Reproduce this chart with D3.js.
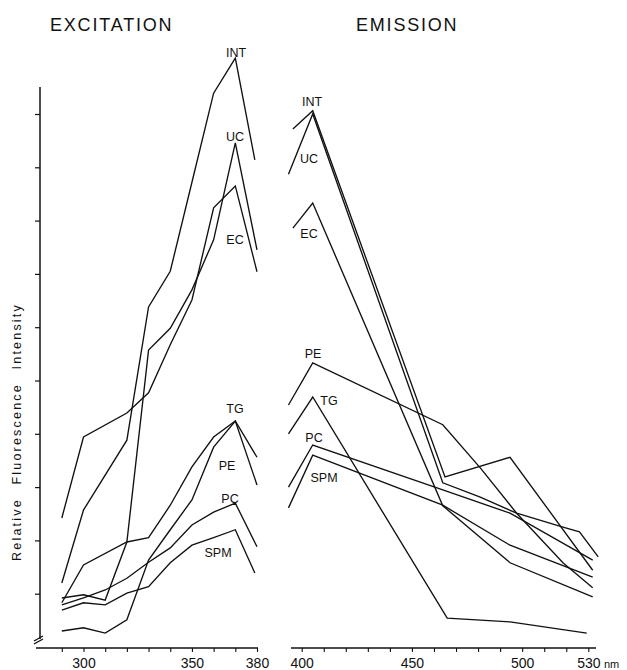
<!DOCTYPE html>
<html>
<head>
<meta charset="utf-8">
<script src="https://cdn.jsdelivr.net/npm/d3@7"></script>
<style>
  html,body{margin:0;padding:0;background:#fff;}
  svg{display:block;font-family:"Liberation Sans",Arial,sans-serif;}
</style>
</head>
<body>
<svg id="chart" width="627" height="670"></svg>
<script>
// ---------------- DATA ----------------
const seriesNames = ["INT","UC","EC","PE","TG","PC","SPM"];

// Excitation spectra: [wavelength nm, relative intensity]
const excINT = [[290,12.0],[300,25.7],[320,38.8],[330,63.8],[340,70.5],[350,87.2],[360,103.9],[370,110.5],[379,91.4]];
const excUC  = [[290,9.2],[300,9.8],[310,8.8],[320,19.7],[330,55.7],[340,59.8],[350,67.0],[360,76.4],[370,94.6],[380,74.5]];
const excEC  = [[290,24.2],[300,39.4],[320,43.9],[330,47.7],[340,56.7],[350,65.1],[360,82.4],[370,86.5],[380,70.4]];
const excPE  = [[290,3.0],[300,3.6],[310,2.6],[320,5.1],[330,16.3],[340,22.0],[350,27.6],[360,37.5],[370,42.4],[380,30.4]];
const excTG  = [[290,8.3],[300,15.4],[320,19.7],[330,20.5],[340,26.6],[350,33.8],[360,39.4],[370,42.4],[380,35.6]];
const excPC  = [[290,7.9],[300,9.2],[310,10.7],[320,12.9],[330,15.9],[340,18.6],[350,22.9],[360,25.3],[370,27.0],[380,18.8]];
const excSPM = [[290,6.9],[300,8.3],[310,7.9],[320,10.1],[330,11.3],[340,15.8],[350,19.1],[360,20.5],[370,22.0],[379,13.9]];

// Emission spectra: [wavelength nm, relative intensity]
const emINT = [[396,97.2],[405,100.6],[465,31.9],[494.5,35.6],[532,14.4]];
const emUC  = [[394,88.7],[405,100.0],[464,30.8],[481,28.1],[497.5,25.1],[518.5,22.5],[526,21.6],[534.5,16.9]];
const emEC  = [[396,78.6],[405,83.3],[464,26.5],[494.5,15.8],[532,9.4]];
const emPE  = [[394,45.4],[405,53.3],[464,41.7],[481,33.6],[497.5,25.1],[518.5,15.8],[532,11.1]];
const emTG  = [[394,40.0],[405,46.9],[466,5.4],[494.5,4.7],[529.3,2.6]];
const emPC  = [[394,30.0],[405,37.9],[464,29.5],[494.5,25.1],[532,16.3]];
const emSPM = [[394,26.1],[405,36.0],[464,26.6],[494.5,19.1],[532,13.1]];

const excTicks = [290,300,310,320,330,340,350,360,370,380];
const excTickLabels = [300,350,380];
const emTicks = [400,410,420,430,440,450,460,470,480,490,500,510,520,530];
const emTickLabels = [400,450,500,530];
const yTicks = [10,20,30,40,50,60,70,80,90,100];

const excitation = {INT:excINT,UC:excUC,EC:excEC,PE:excPE,TG:excTG,PC:excPC,SPM:excSPM};
const emission   = {INT:emINT,UC:emUC,EC:emEC,PE:emPE,TG:emTG,PC:emPC,SPM:emSPM};

// ---------------- LAYOUT ----------------
const svg = d3.select("#chart");
const xExc = d3.scaleLinear().domain([300,380]).range([83.5,257]);
const xEm  = d3.scaleLinear().domain([400,530]).range([301.7,588.3]);
const y    = d3.scaleLinear().domain([0,100]).range([647,114]);
const axisY = 648;
const ink = "#111";

// Lines
const lineExc = d3.line().x(d=>xExc(d[0])).y(d=>y(d[1]));
const lineEm  = d3.line().x(d=>xEm(d[0])).y(d=>y(d[1]));
const g = svg.append("g").attr("fill","none").attr("stroke",ink)
  .attr("stroke-width",1.35).attr("stroke-linejoin","miter");
seriesNames.forEach(n=>{
  g.append("path").attr("d",lineExc(excitation[n]));
  g.append("path").attr("d",lineEm(emission[n]));
});

// Y axis (left)
const yAx = svg.append("g").attr("transform","translate(40,0)")
  .call(d3.axisLeft(y).tickValues(yTicks).tickSize(5).tickFormat(""));
yAx.select(".domain").remove();
yAx.selectAll("line").attr("stroke",ink).attr("stroke-width",1.2);
svg.append("line").attr("x1",40).attr("x2",40).attr("y1",87).attr("y2",639)
  .attr("stroke",ink).attr("stroke-width",1.5);
// axis break mark
svg.append("path").attr("d","M34,641 L43,636 M34,644 L43,639")
  .attr("stroke",ink).attr("stroke-width",1.4).attr("fill","none");

// X axes
function xAxis(scale, ticks, labels, x0, x1){
  const a = svg.append("g").attr("transform",`translate(0,${axisY})`)
    .call(d3.axisBottom(scale).tickValues(ticks).tickSize(4)
      .tickFormat(d=>labels.includes(d)?d:""));
  a.select(".domain").remove();
  a.selectAll("line").attr("stroke",ink).attr("stroke-width",1.1);
  a.selectAll("text").attr("fill",ink).attr("font-size",14).attr("y",20).attr("dy",0)
    .attr("font-family","'Liberation Sans',Arial,sans-serif");
  svg.append("line").attr("x1",x0).attr("x2",x1).attr("y1",axisY).attr("y2",axisY)
    .attr("stroke",ink).attr("stroke-width",1.3);
  return a;
}
xAxis(xExc, excTicks, excTickLabels, 36, 258);
xAxis(xEm, emTicks, emTickLabels, 291, 596);
svg.append("text").attr("x",604).attr("y",668).attr("font-size",11).attr("fill",ink).text("nm");

// Titles
svg.append("text").attr("x",50).attr("y",31).attr("font-size",18)
  .attr("letter-spacing",1.8).attr("fill",ink).text("EXCITATION");
svg.append("text").attr("x",356).attr("y",31).attr("font-size",18)
  .attr("letter-spacing",1.8).attr("fill",ink).text("EMISSION");

// Y label
svg.append("text").attr("transform","translate(21,432) rotate(-90)")
  .attr("text-anchor","middle").attr("font-size",12.5).attr("letter-spacing",2.2)
  .attr("word-spacing",8).attr("fill",ink).text("Relative Fluorescence Intensity");

// Series labels (pixel layout)
const labelLayout = [
  ["INT",236,57],["UC",235,141],["EC",235,244],["TG",235,413],["PE",227,470],["PC",230,503],["SPM",218,557],
  ["INT",312,106],["UC",309,163],["EC",309,238],["PE",313,358],["TG",329,405],["PC",314,442],["SPM",324,482]
];
svg.append("g").selectAll("text").data(labelLayout).join("text")
  .attr("x",d=>d[1]).attr("y",d=>d[2]).attr("text-anchor","middle")
  .attr("font-size",12.5).attr("fill",ink).text(d=>d[0]);
</script>
</body>
</html>
